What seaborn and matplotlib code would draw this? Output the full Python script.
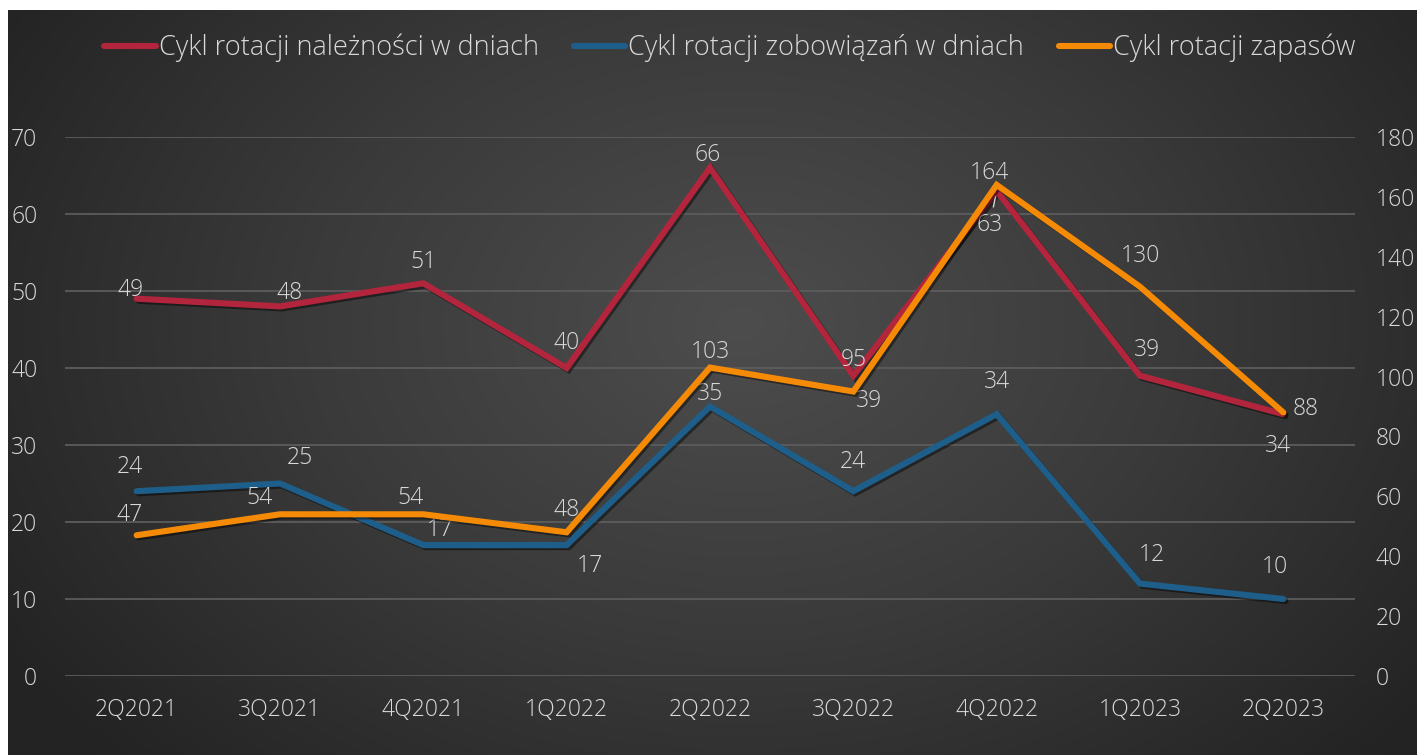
import numpy as np
import pandas as pd
import matplotlib
matplotlib.use("Agg")
import matplotlib.pyplot as plt
import matplotlib.patheffects as pe
from matplotlib.colors import LinearSegmentedColormap
from matplotlib.lines import Line2D
import seaborn as sns

# ---- data -------------------------------------------------------------
quarters = ["2Q2021", "3Q2021", "4Q2021", "1Q2022", "2Q2022",
            "3Q2022", "4Q2022", "1Q2023", "2Q2023"]
receivables_days = [49, 48, 51, 40, 66, 39, 63, 39, 34]
payables_days = [24, 25, 17, 17, 35, 24, 34, 12, 10]
inventory_days = [47, 54, 54, 48, 103, 95, 164, 130, 88]

series_names = ["Cykl rotacji należności w dniach",
                "Cykl rotacji zobowiązań w dniach",
                "Cykl rotacji zapasów"]

left_ticks = [0, 10, 20, 30, 40, 50, 60, 70]
right_ticks = [0, 20, 40, 60, 80, 100, 120, 140, 160, 180]

# ---- label placement (pixel offsets from each point) -------------------
receivables_offsets = [(-6, 9), (10, 13), (0, 21), (0, 25), (-2, 13),
                       (16, -25), (-7, -34), (7, 26), (-5, -32)]
payables_offsets = [(-7, 24), (20, 26), (17, 15), (23, -21), (0, 12),
                    (0, 29), (0, 32), (12, 29), (-8, 32)]
inventory_offsets = [(-7, 20), (-20, 16), (-13, 16), (0, 22), (0, 16),
                     (0, 32), (-7, 12), (0, 31), (22, 3)]

# ---- style -------------------------------------------------------------
RED = "#b3253d"
BLUE = "#1d5f8a"
ORANGE = "#f58a07"
TEXT = "#d9d9d9"
GRID = "#5c5c5c"
FS = 16.5

sns.set_theme(style="dark")
plt.rcParams["font.family"] = ["Open Sans", "DejaVu Sans"]
plt.rcParams["font.weight"] = "light"

W, H = 1417, 755
fig = plt.figure(figsize=(W / 100, H / 100), dpi=100)
fig.patch.set_facecolor("white")

# dark panel with a soft radial gradient
bg = fig.add_axes([8 / W, 0, 1 - 8 / W, 1 - 10 / H])
bg.set_axis_off()
ny, nx = 300, 560
yy, xx = np.mgrid[0:ny, 0:nx]
cx, cy = nx * 0.52, ny * 0.42
r = np.sqrt(((xx - cx) / (nx * 0.62)) ** 2 + ((yy - cy) / (ny * 0.85)) ** 2)
r = np.clip(r, 0, 1)
cmap = LinearSegmentedColormap.from_list("panel", ["#4d4d4d", "#3a3a3a", "#232323"])
bg.imshow(r, cmap=cmap, aspect="auto", interpolation="bicubic", vmin=0, vmax=1)

# main plotting area
ax_l, ax_r = 65 / W, 1355 / W
ax_b, ax_t = 1 - 676 / H, 1 - 137 / H
ax = fig.add_axes([ax_l, ax_b, ax_r - ax_l, ax_t - ax_b])
ax.set_facecolor("none")
ax2 = ax.twinx()
ax2.set_facecolor("none")

df = pd.DataFrame({
    "quarter": quarters,
    "receivables": receivables_days,
    "payables": payables_days,
    "inventory": inventory_days,
})
xpos = np.arange(len(quarters))
df["x"] = xpos

shadow = [pe.SimpleLineShadow(offset=(1.5, -1.5), shadow_color="black", alpha=0.45),
          pe.Normal()]
lw = 4.4

sns.lineplot(data=df, x="x", y="receivables", ax=ax, color=RED, linewidth=lw,
             path_effects=shadow, zorder=3, solid_joinstyle="miter")
sns.lineplot(data=df, x="x", y="payables", ax=ax, color=BLUE, linewidth=lw,
             path_effects=shadow, zorder=3, solid_joinstyle="miter")
sns.lineplot(data=df, x="x", y="inventory", ax=ax2, color=ORANGE, linewidth=lw,
             path_effects=shadow, zorder=3, solid_joinstyle="miter")

ax.set_xlim(-0.5, len(quarters) - 0.5)
ax.set_ylim(0, 70)
ax2.set_ylim(0, 180)
ax.set_yticks(left_ticks)
ax2.set_yticks(right_ticks)
ax.set_xticks(xpos)
ax.set_xticklabels(quarters)

for a in (ax, ax2):
    for s in a.spines.values():
        s.set_visible(False)
    a.set_xlabel("")
    a.set_ylabel("")
    a.tick_params(length=0, colors=TEXT, labelsize=FS)
ax.tick_params(axis="y", pad=20)
ax2.tick_params(axis="y", pad=15)
ax.tick_params(axis="x", pad=16)
for lbl in ax.get_xticklabels() + ax.get_yticklabels() + ax2.get_yticklabels():
    lbl.set_color(TEXT)
    lbl.set_fontweight("light")

ax.grid(axis="y", color=GRID, linewidth=1.3)
ax.grid(axis="x", visible=False)
ax2.grid(False)
ax.set_axisbelow(True)


def label_series(axis, values, offsets, leader=None):
    for i, (v, (dx, dy)) in enumerate(zip(values, offsets)):
        kw = {}
        if leader is not None and i in leader:
            kw["arrowprops"] = dict(arrowstyle="-", color=TEXT, lw=1.0,
                                    shrinkA=2, shrinkB=4)
        axis.annotate(str(v), xy=(xpos[i], v), xytext=(dx, dy),
                      textcoords="offset pixels", ha="center", va="center",
                      color=TEXT, fontsize=FS, fontweight="light",
                      zorder=5, **kw)


label_series(ax, receivables_days, receivables_offsets, leader={6})
label_series(ax, payables_days, payables_offsets)
label_series(ax2, inventory_days, inventory_offsets)

# legend across the top
handles = [Line2D([0], [0], color=c, linewidth=lw, solid_capstyle="round")
           for c in (RED, BLUE, ORANGE)]
leg = fig.legend(handles, series_names, loc="center", ncol=3,
                 bbox_to_anchor=(730 / W, 1 - 48 / H), frameon=False,
                 prop={"size": 19.5, "weight": "light"},
                 handlelength=1.9, handletextpad=0.1, columnspacing=1.3)
for t in leg.get_texts():
    t.set_color(TEXT)

fig.savefig("out.png", dpi=100, facecolor=fig.get_facecolor())
